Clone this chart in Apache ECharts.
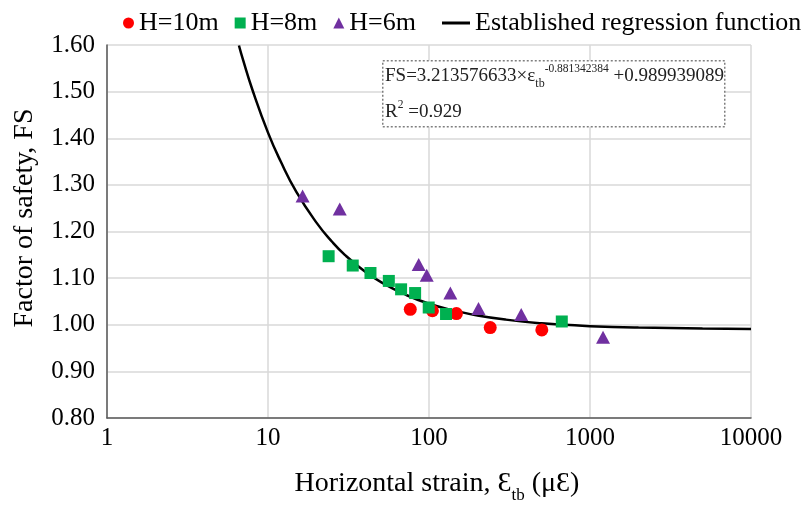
<!DOCTYPE html>
<html lang="en">
<head>
    <meta charset="UTF-8">
    <title>FS vs horizontal strain</title>
    <script src="https://cdn.jsdelivr.net/npm/echarts@6/dist/echarts.min.js"></script>
    <style>
        body { margin: 0; background: #fff; }
    </style>
</head>
<body>
    <div id="main" style="width: 809px;height:505px;"></div>
    <script>
        // 测点数据 (horizontal strain, FS)
        var h10Strain = [76.5, 105, 148, 240, 502];
        var h10FS = [1.033, 1.030, 1.024, 0.994, 0.989];

        var h8Strain = [23.8, 33.6, 43.3, 56.3, 67.1, 82.0, 99.6, 127.6, 668];
        var h8FS = [1.147, 1.127, 1.111, 1.094, 1.076, 1.068, 1.037, 1.023, 1.007];

        var h6Strain = [16.4, 27.9, 86.3, 96.8, 135.7, 203, 374, 1205];
        var h6FS = [1.276, 1.248, 1.129, 1.106, 1.068, 1.035, 1.022, 0.973];

        // regression curve
        var fitStrain = [6.6, 7, 8, 10, 12, 15, 20, 25, 30, 40, 50, 70, 100, 150, 200, 300, 500, 700, 1000, 2000, 5000, 10000];
        var fitFS = [1.599, 1.568, 1.504, 1.412, 1.350, 1.285, 1.219, 1.178, 1.150, 1.114, 1.092, 1.066, 1.045, 1.029, 1.020, 1.011, 1.003, 1.000, 0.997, 0.994, 0.992, 0.991];

        var yTicks = ['0.80', '0.90', '1.00', '1.10', '1.20', '1.30', '1.40', '1.50', '1.60'];
        var xTicks = ['1', '10', '100', '1000', '10000'];

        function pairs(xs, ys) {
            var out = [];
            for (var i = 0; i < xs.length; i++) {
                out.push([xs[i], ys[i]]);
            }
            return out;
        }

        var serif = '"Liberation Serif", "DejaVu Serif", serif';
        var myChart = echarts.init(document.getElementById('main'));

        var option = {
            backgroundColor: '#fff',
            textStyle: { fontFamily: serif, color: '#000' },
            grid: { left: 107, right: 58, top: 45, bottom: 87, outerBoundsMode: 'none', containLabel: false },
            legend: [{
                left: 118,
                top: 5,
                itemWidth: 11,
                itemHeight: 11,
                itemGap: 16,
                textStyle: { fontFamily: serif, fontSize: 26, color: '#000' },
                data: [
                    { name: 'H=10m', icon: 'circle' },
                    { name: 'H=8m', icon: 'rect' },
                    { name: 'H=6m', icon: 'triangle' }
                ]
            }, {
                left: 437,
                top: 5,
                itemWidth: 28,
                itemHeight: 3,
                icon: 'rect',
                textStyle: { fontFamily: serif, fontSize: 26, color: '#000' },
                data: ['Established regression function']
            }],
            xAxis: {
                type: 'log',
                logBase: 10,
                min: 1,
                max: 10000,
                name: '{a|Horizontal strain, Ɛ}{sub|tb}{a| (μƐ)}',
                nameLocation: 'middle',
                nameGap: 52,
                nameTextStyle: {
                    padding: [0, 0, 0, 16],
                    rich: {
                        a: { fontFamily: serif, fontSize: 28, color: '#000', lineHeight: 34, verticalAlign: 'top' },
                        sub: { fontFamily: serif, fontSize: 17, color: '#000', lineHeight: 34, verticalAlign: 'bottom' }
                    }
                },
                axisLine: { lineStyle: { color: '#595959', width: 1.5 } },
                axisTick: { show: false },
                axisLabel: {
                    fontSize: 25,
                    color: '#000',
                    margin: 8,
                    formatter: function (v) {
                        var s = String(Math.round(v));
                        return xTicks.indexOf(s) >= 0 ? s : '';
                    }
                },
                splitLine: { show: true, lineStyle: { color: '#d9d9d9', width: 1.5 } },
                minorSplitLine: { show: false }
            },
            yAxis: {
                type: 'value',
                min: 0.8,
                max: 1.6,
                interval: 0.1,
                name: 'Factor of safety, FS',
                nameLocation: 'middle',
                nameGap: 68,
                nameRotate: 90,
                nameTextStyle: { fontSize: 28, color: '#000', padding: [0, 0, 0, 27] },
                axisLine: { show: true, lineStyle: { color: '#595959', width: 1.5 } },
                axisTick: { show: false },
                axisLabel: {
                    fontSize: 25,
                    color: '#000',
                    margin: 12,
                    formatter: function (v) {
                        return yTicks[Math.round((v - 0.8) * 10)];
                    }
                },
                splitLine: { show: true, lineStyle: { color: '#d9d9d9', width: 1.5 } }
            },
            graphic: [{
                type: 'rect',
                left: 382,
                top: 60,
                z: 10,
                shape: { width: 342, height: 66 },
                style: { fill: '#fff', stroke: '#7f7f7f', lineWidth: 1.5, lineDash: [2, 2] }
            }, {
                type: 'text',
                left: 385,
                top: 58,
                z: 11,
                style: {
                    text: '{a|FS=3.213576633×ε}{sub|tb}{sup|-0.881342384}{a| +0.989939089}\n{a|R}{sup|2}{a| =0.929}',
                    rich: {
                        a: { fontFamily: serif, fontSize: 19, fill: '#222', lineHeight: 36, verticalAlign: 'middle' },
                        sub: { fontFamily: serif, fontSize: 12, fill: '#222', lineHeight: 36, verticalAlign: 'bottom', padding: [0, 0, 4, 0] },
                        sup: { fontFamily: serif, fontSize: 11.5, fill: '#222', lineHeight: 36, verticalAlign: 'top', padding: [5, 0, 0, 0] }
                    }
                }
            }],
            series: [{
                name: 'H=10m',
                type: 'scatter',
                symbol: 'circle',
                symbolSize: 13,
                itemStyle: { color: '#ff0000', opacity: 1 },
                data: pairs(h10Strain, h10FS),
                z: 4
            }, {
                name: 'H=8m',
                type: 'scatter',
                symbol: 'rect',
                symbolSize: 12,
                itemStyle: { color: '#00b050', opacity: 1 },
                data: pairs(h8Strain, h8FS),
                z: 4
            }, {
                name: 'H=6m',
                type: 'scatter',
                symbol: 'triangle',
                symbolSize: [14, 13],
                itemStyle: { color: '#7030a0', opacity: 1 },
                data: pairs(h6Strain, h6FS),
                z: 4
            }, {
                name: 'Established regression function',
                type: 'line',
                smooth: true,
                symbol: 'none',
                itemStyle: { color: '#000' },
                lineStyle: { color: '#000', width: 2.5 },
                data: pairs(fitStrain, fitFS),
                z: 3
            }]
        };

        myChart.setOption(option);
    </script>
</body>
</html>
